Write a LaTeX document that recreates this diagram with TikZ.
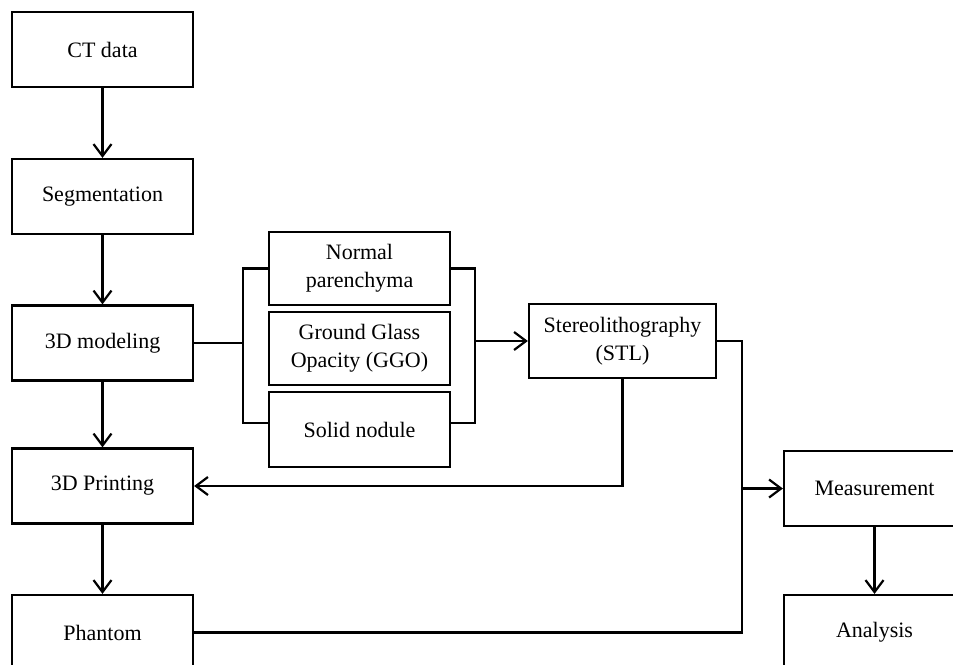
\documentclass[tikz,border=0pt]{standalone}
\usepackage{fontspec}
\setmainfont{Liberation Serif}
\usetikzlibrary{arrows.meta}
\tikzset{
  box/.style={draw, line width=2.2pt, minimum width=181pt, minimum height=75pt,
    align=center, inner sep=2pt, font=\fontsize{22}{28}\selectfont},
  ln/.style={line width=2.2pt},
  arr/.style={ln, -{Straight Barb[length=12pt,width=18pt]}}
}
\begin{document}
\begin{tikzpicture}[x=1pt,y=-1pt]
    \useasboundingbox[fill=white] (0,0) rectangle (953,664);
    \clip (0,0) rectangle (953,664);

    % Main column
    \node[box] (ct) at (102.5,49.5) {CT data};
    \node[box] (seg) at (102.5,196.5) {Segmentation};
    \node[box] (model) at (102.5,343) {3D modeling};
    \node[box] (print) at (102.5,486) {3D Printing};
    \node[box] (phantom) at (102.5,632.5) {Phantom};

    % Tissue types
    \node[box, minimum height=73pt] (normal) at (359.5,268.5) {Normal\\parenchyma};
    \node[box, minimum height=73pt] (ggo) at (359.5,348.5) {Ground Glass\\Opacity (GGO)};
    \node[box] (solid) at (359.5,429.5) {Solid nodule};

    % Right side
    \node[box, minimum width=187pt, minimum height=74pt] (stl) at (622.5,341) {Stereolithography\\(STL)};
    \node[box] (meas) at (874.5,488.5) {Measurement};
    \node[box] (analysis) at (874.5,632.5) {Analysis};

    % Vertical flow
    \draw[arr] (ct) -- (seg);
    \draw[arr] (seg) -- (model);
    \draw[arr] (model) -- (print);
    \draw[arr] (print) -- (phantom);
    \draw[arr] (meas) -- (analysis);

    % Brackets round the tissue boxes
    \draw[ln] (model.east) -- (243,343);
    \draw[ln] (normal.west) -| (243,343) |- ([yshift=6.5pt]solid.west);
    \draw[ln] (normal.east) -| (475,341) |- ([yshift=6.5pt]solid.east);
    \draw[arr] (475,341) -- (stl.west);

    % Back to printing and on to measurement
    \draw[arr] (stl.south) |- (print.east);
    \coordinate (jr) at (742,488.5);
    \draw[ln] (stl.east) -| (jr);
    \draw[ln] (phantom.east) -| (jr);
    \draw[arr] (jr) -- (meas.west);
\end{tikzpicture}
\end{document}
